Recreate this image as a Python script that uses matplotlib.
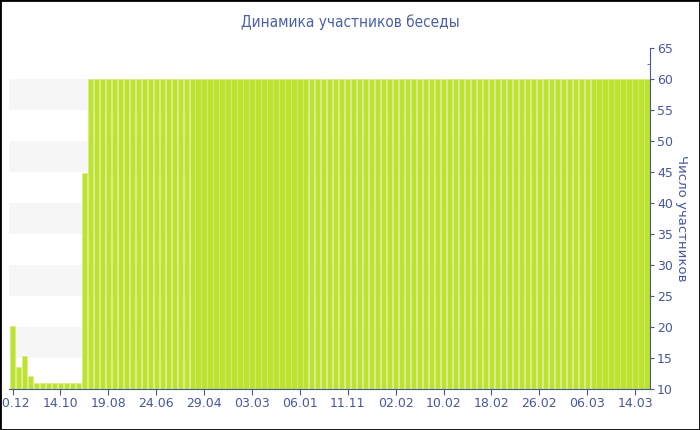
import matplotlib.pyplot as plt
from matplotlib.patches import Rectangle

# Data
values = [20.2, 13.6, 15.3, 12.1] + [11] * 8 + [44.8] + [60] * 94
tick_labels = ["10.12", "14.10", "19.08", "24.06", "29.04", "03.03", "06.01",
               "11.11", "02.02", "10.02", "18.02", "26.02", "06.03", "14.03"]
tick_positions = list(range(0, 8 * len(tick_labels), 8))
band_ranges = [(15, 20), (25, 30), (35, 40), (45, 50), (55, 60)]

blue = "#4657a0"
bar_color = "#bde22f"

fig = plt.figure(figsize=(7, 4.3), dpi=100)
ax = fig.add_axes([9 / 700, 1 - 389 / 430, 641 / 700, 341 / 430])

for lo, hi in band_ranges:
    ax.axhspan(lo, hi, color="#f6f6f6", zorder=0, lw=0)

ax.bar(range(len(values)), values, width=0.88, color=bar_color,
       edgecolor="#d6ec86", linewidth=0.4, zorder=2)

ax.set_xlim(-0.6, len(values) - 0.5)
ax.set_ylim(10, 65)

ax.yaxis.tick_right()
ax.yaxis.set_label_position("right")
ax.set_yticks(range(10, 66, 5))
ax.set_yticks([y + 2.5 for y in range(10, 65, 5)], minor=True)
ax.tick_params(axis="y", which="major", colors=blue, labelsize=9, length=3, pad=2)
ax.tick_params(axis="y", which="minor", direction="in", length=2, color=blue)
ax.set_xticks(tick_positions)
ax.set_xticklabels(tick_labels)
ax.tick_params(axis="x", colors=blue, labelsize=9, length=4, pad=2)

for side in ["top", "left"]:
    ax.spines[side].set_visible(False)
ax.spines["right"].set_color(blue)
ax.spines["bottom"].set_color(blue)

ax.set_ylabel("Число участников", color=blue, fontsize=9.5, rotation=270, labelpad=11)

fig.text(0.5, 1 - 22 / 430, "Динамика участников беседы", ha="center", va="center",
         color="#4a5fa8", fontsize=11, fontstretch="condensed",
         family=["DejaVu Sans"])

fig.add_artist(Rectangle((0, 0), 1, 1, transform=fig.transFigure, fill=False,
                         edgecolor="black", linewidth=2))

fig.savefig("out.png", dpi=100)
